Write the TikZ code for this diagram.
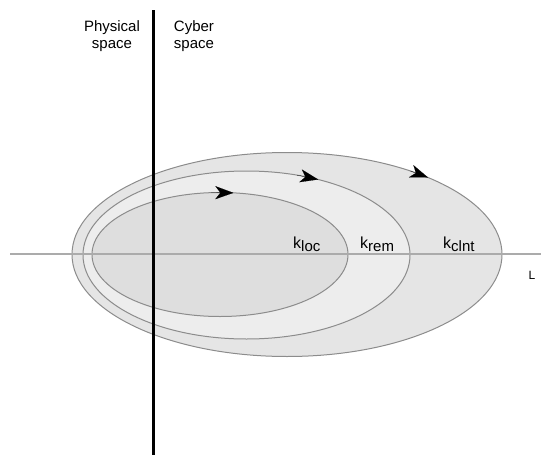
\documentclass[tikz,border=0pt]{standalone}
\usepackage{fontspec}
\setmainfont{Liberation Sans}
\usetikzlibrary{arrows.meta}
\begin{document}
\begin{tikzpicture}[x=1pt,y=-1pt,
  ell/.style={draw=black!45,line width=1pt},
  lbl/.style={font=\fontsize{15}{17}\selectfont,inner sep=0pt},
  klbl/.style={font=\fontsize{16}{18}\selectfont,inner sep=0pt,anchor=base west},
  arr/.style={-{Stealth[length=18pt,width=13pt,inset=5pt]},line width=0.1pt,draw=black,fill=black}]
\newcommand{\ksub}[1]{k\raisebox{-3pt}{\fontsize{15}{15}\selectfont #1}}
\useasboundingbox (0,0) rectangle (541,455);
% ellipses
\coordinate (co) at (287,254.5);
\coordinate (cm) at (246.5,255);
\coordinate (ci) at (220,254.5);
\path[ell,fill=black!10] (co) ellipse [x radius=215,y radius=102];
\path[ell,fill=black!7] (cm) ellipse [x radius=163.5,y radius=84];
\path[ell,fill=black!13] (ci) ellipse [x radius=128,y radius=62];
% axes
\coordinate (hl) at (10,254);
\coordinate (hr) at (541,254);
\draw[black!33,line width=2pt] (hl) -- (hr);
\coordinate (vt) at (153,10);
\coordinate (vb) at (153,455);
\draw[black,line width=3pt] (vt) -- (vb);
% arrows
\path (ci) ++(-94:128 and 62) coordinate (i1) (ci) ++(-84:128 and 62) coordinate (i2);
\path (cm) ++(-72:163.5 and 84) coordinate (m1) (cm) ++(-64:163.5 and 84) coordinate (m2);
\path (co) ++(-55:215 and 102) coordinate (o1) (co) ++(-49:215 and 102) coordinate (o2);
\draw[arr] (i1) -- (i2);
\draw[arr] (m1) -- (m2);
\draw[arr] (o1) -- (o2);
% texts
\node[lbl,align=center] (phys) at (112,36) {Physical\\space};
\node[lbl,align=left] (cyb) at (194,36) {Cyber\\space};
\node[klbl] (kloc) at (293,248) {\ksub{loc}};
\node[klbl] (krem) at (360,248) {\ksub{rem}};
\node[klbl] (kclnt) at (443,248) {\ksub{clnt}};
\node[font=\fontsize{12}{13}\selectfont,inner sep=0pt] (L) at (532,275.5) {L};
\end{tikzpicture}
\end{document}
